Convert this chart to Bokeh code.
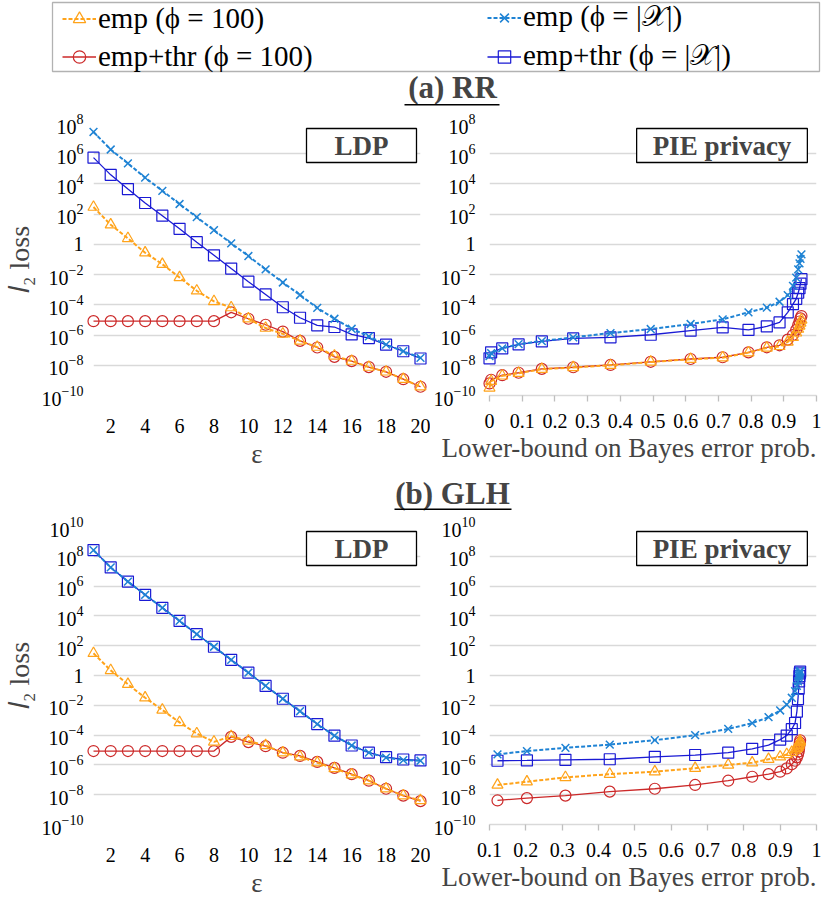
from bokeh.plotting import figure
from bokeh.layouts import column, row
from bokeh.models import (Range1d, FixedTicker, CustomJSTickFormatter, LogTickFormatter, Label,
                          BoxAnnotation, Legend, LegendItem, Title)
from bokeh.embed import file_html
from bokeh.resources import INLINE

FONT = "Liberation Serif"

# ---------------- data ----------------
EPS = [1, 2, 3, 4, 5, 6, 7, 8, 9, 10, 11, 12, 13, 14, 15, 16, 17, 18, 19, 20]
EPS_TICKS = [2, 4, 6, 8, 10, 12, 14, 16, 18, 20]
EPS_TICK_LABELS = ["2", "4", "6", "8", "10", "12", "14", "16", "18", "20"]

Y_TICKS_A = [1e-10, 1e-8, 1e-6, 1e-4, 1e-2, 1, 1e2, 1e4, 1e6, 1e8]
Y_TICKS_B = [1e-10, 1e-8, 1e-6, 1e-4, 1e-2, 1, 1e2, 1e4, 1e6, 1e8, 1e10]
Y_LABEL_OVERRIDES = {1: "1"}   # all other y tick labels are 10 with a superscript exponent

BER_TICKS_A = [0, 0.1, 0.2, 0.3, 0.4, 0.5, 0.6, 0.7, 0.8, 0.9, 1]
BER_LABELS_A = ["0", "0.1", "0.2", "0.3", "0.4", "0.5", "0.6", "0.7", "0.8", "0.9", "1"]
BER_TICKS_B = [0.1, 0.2, 0.3, 0.4, 0.5, 0.6, 0.7, 0.8, 0.9, 1]
BER_LABELS_B = ["0.1", "0.2", "0.3", "0.4", "0.5", "0.6", "0.7", "0.8", "0.9", "1"]

SERIES_LABELS = {
    "emp100": "emp (ϕ = 100)",
    "thr100": "emp+thr (ϕ = 100)",
    "empX": "emp (ϕ = |𝒳|)",
    "thrX": "emp+thr (ϕ = |𝒳|)",
}

# (a) RR, LDP  (x = EPS)
RR_LDP_EMP100 = [2.95e2, 20, 2.5, 0.28, 4.9e-2, 6.5e-3, 8.5e-4, 1.7e-4, 6.6e-5, 1.2e-5,
                 2.9e-6, 1.2e-6, 4.1e-7, 1.6e-7, 4.2e-8, 1.9e-8, 7.6e-9, 3.7e-9, 1.2e-9, 3.8e-10]
RR_LDP_THR100 = [8.3e-6, 8.3e-6, 8.3e-6, 8.3e-6, 8.3e-6, 8.3e-6, 8.3e-6, 8.3e-6, 3.2e-5, 1.2e-5,
                 4.8e-6, 1.7e-6, 4.1e-7, 1.5e-7, 3.6e-8, 1.9e-8, 7.6e-9, 3.7e-9, 1.2e-9, 3.8e-10]
RR_LDP_EMPX = [2.75e7, 1.9e6, 2.3e5, 2.6e4, 3.5e3, 4.7e2, 63, 8.7, 1.17, 0.17,
               2.2e-2, 3.0e-3, 4.5e-4, 6.3e-5, 1.2e-5, 2.6e-6, 8.1e-7, 2.3e-7, 8.5e-8, 3.1e-8]
RR_LDP_THRX = [5.5e5, 4.0e4, 4.6e3, 5.5e2, 79, 10.7, 1.4, 0.19, 2.5e-2, 3.4e-3,
               4.9e-4, 6.9e-5, 1.4e-5, 4.4e-6, 3.4e-6, 1.1e-6, 6.3e-7, 2.3e-7, 8.5e-8, 2.8e-8]

# (a) RR, PIE privacy
RR_PIE_X = [0.0, 0.005, 0.039, 0.089, 0.16, 0.256, 0.37, 0.493, 0.615, 0.713,
            0.792, 0.848, 0.887, 0.912, 0.928, 0.938, 0.944, 0.948, 0.951, 0.954]
RR_PIE_EMP100 = [3.2e-10, 8.9e-10, 2.0e-9, 3.0e-9, 5.5e-9, 7.2e-9, 1.0e-8, 1.66e-8, 2.5e-8, 3.2e-8,
                 6.9e-8, 1.4e-7, 1.8e-7, 3.5e-7, 7.1e-7, 1.4e-6, 2.5e-6, 4.0e-6, 6.3e-6, 1.0e-5]
RR_PIE_THR100 = [6.3e-10, 1.1e-9, 2.2e-9, 3.2e-9, 5.8e-9, 7.4e-9, 1.05e-8, 1.7e-8, 2.6e-8, 3.4e-8,
                 7.2e-8, 1.55e-7, 2.1e-7, 5.0e-7, 1.0e-6, 2.2e-6, 4.5e-6, 7.9e-6, 1.26e-5, 1.8e-5]
RR_PIE_EMPX = [4.0e-8, 6.3e-8, 1.3e-7, 2.5e-7, 4.0e-7, 7.1e-7, 1.35e-6, 2.5e-6, 5.4e-6, 1.1e-5,
               3.2e-5, 6.6e-5, 1.6e-4, 4.4e-4, 1.8e-3, 6.3e-3, 2.2e-2, 5.6e-2, 0.11, 0.22]
RR_PIE_THRX = [2.9e-8, 7.2e-8, 1.3e-7, 2.4e-7, 3.8e-7, 6.0e-7, 7.1e-7, 1.05e-6, 1.95e-6, 3.2e-6,
               2.2e-6, 3.7e-6, 6.9e-6, 3.2e-5, 1.1e-4, 2.5e-4, 6.3e-4, 1.26e-3, 2.5e-3, 5.0e-3]

# (b) GLH, LDP  (x = EPS)
GLH_LDP_EMP100 = [31, 2.2, 0.26, 3.2e-2, 4.9e-3, 7.1e-4, 1.26e-4, 3.5e-5, 8.3e-5, 4.1e-5,
                  2.0e-5, 6.6e-6, 3.5e-6, 1.4e-6, 5.8e-7, 2.2e-7, 8.7e-8, 2.5e-8, 8.7e-9, 4.1e-9]
GLH_LDP_THR100 = [8.5e-6, 8.5e-6, 8.5e-6, 8.5e-6, 8.5e-6, 8.5e-6, 8.5e-6, 8.5e-6, 7.6e-5, 3.4e-5,
                  1.8e-5, 6.6e-6, 4.0e-6, 1.6e-6, 6.3e-7, 2.4e-7, 8.7e-8, 2.5e-8, 8.7e-9, 3.7e-9]
GLH_LDP_EMPX = [2.6e8, 1.8e7, 2.0e6, 2.6e5, 3.5e4, 4.6e3, 5.9e2, 85, 11.2, 1.55,
                0.2, 2.75e-2, 4.0e-3, 5.5e-4, 9.1e-5, 2.0e-5, 6.6e-6, 3.1e-6, 2.1e-6, 1.9e-6]
GLH_LDP_THRX = [2.6e8, 1.8e7, 2.0e6, 2.6e5, 3.5e4, 4.6e3, 5.9e2, 85, 11.2, 1.55,
                0.2, 2.75e-2, 4.0e-3, 5.5e-4, 9.1e-5, 2.0e-5, 6.6e-6, 3.3e-6, 2.3e-6, 2.0e-6]

# (b) GLH, PIE privacy
GLH_PIE_X = [0.122, 0.203, 0.309, 0.431, 0.555, 0.666, 0.757, 0.823, 0.868, 0.9,
             0.918, 0.932, 0.941, 0.946, 0.949, 0.951, 0.952, 0.953, 0.954, 0.955]
GLH_PIE_EMP100 = [4.5e-8, 7.4e-8, 1.45e-7, 2.4e-7, 3.5e-7, 6.0e-7, 1.0e-6, 1.4e-6, 2.4e-6, 3.5e-6,
                  5.1e-6, 7.1e-6, 1.0e-5, 1.26e-5, 1.6e-5, 2.0e-5, 2.5e-5, 3.2e-5, 3.5e-5, 4.0e-5]
GLH_PIE_THR100 = [4.1e-9, 5.9e-9, 8.7e-9, 1.6e-8, 2.5e-8, 4.5e-8, 8.7e-8, 1.6e-7, 2.4e-7, 3.5e-7,
                  5.8e-7, 1.1e-6, 1.9e-6, 3.2e-6, 5.0e-6, 7.9e-6, 1.26e-5, 2.0e-5, 3.2e-5, 4.5e-5]
GLH_PIE_EMPX = [5.1e-6, 8.5e-6, 1.4e-5, 2.3e-5, 4.6e-5, 1.0e-4, 2.6e-4, 6.3e-4, 1.6e-3, 4.5e-3,
                1.1e-2, 3.2e-2, 8.9e-2, 0.2, 0.4, 0.71, 1.0, 1.3, 1.66, 2.0]
GLH_PIE_THRX = [1.9e-6, 2.0e-6, 2.2e-6, 2.4e-6, 3.5e-6, 4.6e-6, 6.6e-6, 1.2e-5, 2.1e-5, 5.0e-5,
                9.3e-5, 2.5e-4, 6.5e-4, 3.8e-3, 2.6e-2, 0.13, 0.4, 0.9, 1.4, 1.8]

# ---------------- styles ----------------
STYLES = {
    "emp100": dict(color="#FFA31A", dash="4 2", width=2.0, marker="triangle", size=11, mlw=1.2),
    "thr100": dict(color="#CC2929", dash="solid", width=1.3, marker="circle", size=11, mlw=1.2),
    "empX": dict(color="#1F83D4", dash="4 2", width=2.0, marker="x", size=11, mlw=1.5),
    "thrX": dict(color="#1A1AD4", dash="solid", width=1.3, marker="square", size=11, mlw=1.2),
}
DRAW_ORDER = ["thr100", "emp100", "thrX", "empX"]

GRID = "#d9d9d9"
TOTAL_W = 821
W_LEFT, W_RIGHT = 430, 391
BL_LEFT, BR_LEFT = 86, 10
BL_RIGHT, BR_RIGHT = 57, 5
B_BOTTOM = 78


def lookup_formatter(vals, labels):
    code = """
    let best = 0, bd = Infinity;
    for (let i = 0; i < vals.length; i++) {
        const d = Math.abs(vals[i] - tick);
        if (d < bd) { bd = d; best = i; }
    }
    return labels[best];
    """
    return CustomJSTickFormatter(args=dict(vals=vals, labels=labels), code=code)


def panel(kind, xr, yr, fh, bt, xs, data, box_text, yticks, xticks, xlabels):
    left = kind == "left"
    w = W_LEFT if left else W_RIGHT
    bl = BL_LEFT if left else BL_RIGHT
    br = BR_LEFT if left else BR_RIGHT
    h = bt + fh + B_BOTTOM
    p = figure(width=w, height=h, x_range=Range1d(*xr), y_range=Range1d(*yr),
               y_axis_type="log", output_backend="svg", toolbar_location=None,
               min_border_left=bl, min_border_right=br,
               min_border_top=bt, min_border_bottom=B_BOTTOM)
    p.outline_line_color = None
    p.xgrid.visible = False
    p.ygrid.grid_line_color = GRID
    p.ygrid.grid_line_width = 1.3

    ya = p.yaxis[0]
    ya.ticker = FixedTicker(ticks=yticks, minor_ticks=[])
    ya.formatter = LogTickFormatter()
    ya.major_label_overrides = Y_LABEL_OVERRIDES
    ya.axis_line_color = None
    ya.major_tick_line_color = None
    ya.minor_tick_line_color = None
    ya.major_label_text_font = FONT
    ya.major_label_text_font_size = "20px"
    ya.major_label_text_color = "black"
    ya.major_label_standoff = 4 if left else 8

    xa = p.xaxis[0]
    xa.ticker = FixedTicker(ticks=xticks, minor_ticks=[])
    xa.formatter = lookup_formatter(xticks, xlabels)
    xa.major_label_text_font = FONT
    xa.major_label_text_font_size = "20px"
    xa.major_label_text_color = "black"
    xa.minor_tick_line_color = None
    if left:
        xa.axis_line_color = None
        xa.major_tick_line_color = None
        xa.major_label_standoff = 17
        xa.axis_label = "ε"
        xa.axis_label_text_font = FONT
        xa.axis_label_text_font_size = "27px"
        xa.axis_label_text_font_style = "normal"
        xa.axis_label_standoff = 3
        ya.axis_label = "𝑙₂ loss"
        ya.axis_label_text_font = FONT
        ya.axis_label_text_font_size = "28px"
        ya.axis_label_text_font_style = "normal"
        ya.axis_label_standoff = 4
    else:
        xa.axis_line_color = GRID
        xa.axis_line_width = 1.3
        xa.major_tick_line_color = "#bfbfbf"
        xa.major_tick_line_width = 1.3
        xa.major_tick_out = 6
        xa.major_tick_in = 0
        xa.major_label_standoff = 12
        p.add_layout(Title(text="Lower-bound on Bayes error prob.", align="right",
                           text_font=FONT, text_font_size="27px",
                           text_font_style="normal", standoff=0), "below")

    for key in DRAW_ORDER:
        st = STYLES[key]
        ln = p.line(xs, data[key], line_color=st["color"], line_width=st["width"],
                    line_dash=st["dash"])
        sc = p.scatter(xs, data[key], marker=st["marker"], size=st["size"],
                       line_color=st["color"], fill_color=None, line_width=st["mlw"])
        ln.level = "overlay"
        sc.level = "overlay"

    fw = w - bl - br
    box_w = 110 if box_text == "LDP" else 171
    pad_x = 28 if box_text == "LDP" else 16
    p.add_layout(Label(x=fw - 11 - box_w / 2, y=fh - 5 - 17, x_units="screen", y_units="screen",
                       text=box_text, text_align="center", text_baseline="middle",
                       text_font=FONT, text_font_style="bold", text_font_size="27px",
                       border_line_color="black", border_line_width=1.3,
                       background_fill_color="white",
                       padding=dict(left=pad_x, right=pad_x, top=2, bottom=2)))
    return p


def dd(e100, t100, ex, tx):
    return {"emp100": e100, "thr100": t100, "empX": ex, "thrX": tx}


FH_A, FH_B = 272, 298
BT_A, BT_B = 16, 14

a_l = panel("left", (1, 20), (1e-10, 1e8), FH_A, BT_A, EPS,
            dd(RR_LDP_EMP100, RR_LDP_THR100, RR_LDP_EMPX, RR_LDP_THRX), "LDP",
            Y_TICKS_A, EPS_TICKS, EPS_TICK_LABELS)
a_r = panel("right", (0, 1), (1e-10, 1e8), FH_A, BT_A, RR_PIE_X,
            dd(RR_PIE_EMP100, RR_PIE_THR100, RR_PIE_EMPX, RR_PIE_THRX), "PIE privacy",
            Y_TICKS_A, BER_TICKS_A, BER_LABELS_A)
b_l = panel("left", (1, 20), (1e-10, 1e10), FH_B, BT_B, EPS,
            dd(GLH_LDP_EMP100, GLH_LDP_THR100, GLH_LDP_EMPX, GLH_LDP_THRX), "LDP",
            Y_TICKS_B, EPS_TICKS, EPS_TICK_LABELS)
b_r = panel("right", (0.1, 1), (1e-10, 1e10), FH_B, BT_B, GLH_PIE_X,
            dd(GLH_PIE_EMP100, GLH_PIE_THR100, GLH_PIE_EMPX, GLH_PIE_THRX), "PIE privacy",
            Y_TICKS_B, BER_TICKS_B, BER_LABELS_B)


def blank(w, h):
    f = figure(width=w, height=h, x_range=Range1d(0, w), y_range=Range1d(h, 0),
               output_backend="svg", toolbar_location=None,
               x_axis_location=None, y_axis_location=None,
               min_border=0)
    f.outline_line_color = None
    f.grid.visible = False
    return f


NAN = float("nan")

# header with legend and "(a) RR"
HDR_H = 107
hdr = blank(TOTAL_W, HDR_H)
items_l, items_r = [], []
for key in ["emp100", "thr100", "empX", "thrX"]:
    st = STYLES[key]
    ln = hdr.line([NAN], [NAN], line_color=st["color"], line_width=st["width"], line_dash=st["dash"])
    sc = hdr.scatter([NAN], [NAN], marker=st["marker"], size=st["size"], line_color=st["color"],
                     fill_color=None, line_width=st["mlw"])
    it = LegendItem(label=SERIES_LABELS[key], renderers=[ln, sc])
    (items_l if key.endswith("100") else items_r).append(it)

for items, lx in ((items_l, 62), (items_r, 487)):
    lg = Legend(items=items, location=(lx, HDR_H - 73), orientation="vertical",
                border_line_color=None, background_fill_alpha=0,
                label_text_font=FONT, label_text_font_size="29px", label_text_color="black",
                glyph_width=34, glyph_height=31, label_height=31,
                spacing=5, padding=0, margin=0, label_standoff=2)
    hdr.add_layout(lg)

hdr.add_layout(BoxAnnotation(left=52, right=819, top=2, bottom=71, fill_color=None,
                             line_color="black", line_width=1.3))
hdr.add_layout(Label(x=452, y=87, text="(a) RR", text_align="center", text_baseline="middle",
                     text_font=FONT, text_font_style="bold", text_font_size="31px"))
hdr.add_layout(BoxAnnotation(left=404, right=499, top=103.5, bottom=105, fill_color="black",
                             fill_alpha=1, line_color=None))

# "(b) GLH" title row
TB_H = 902 - HDR_H - (BT_A + FH_A + B_BOTTOM) - (BT_B + FH_B + B_BOTTOM)
tb = blank(TOTAL_W, TB_H)
tb.add_layout(Label(x=452, y=TB_H / 2, text="(b) GLH", text_align="center", text_baseline="middle",
                    text_font=FONT, text_font_style="bold", text_font_size="31px"))
tb.add_layout(BoxAnnotation(left=394, right=511, top=TB_H - 4, bottom=TB_H - 2.5,
                            fill_color="black", fill_alpha=1, line_color=None))

layout = column(hdr, row(a_l, a_r), tb, row(b_l, b_r))

with open("out.html", "w") as f:
    f.write(file_html(layout, INLINE))
